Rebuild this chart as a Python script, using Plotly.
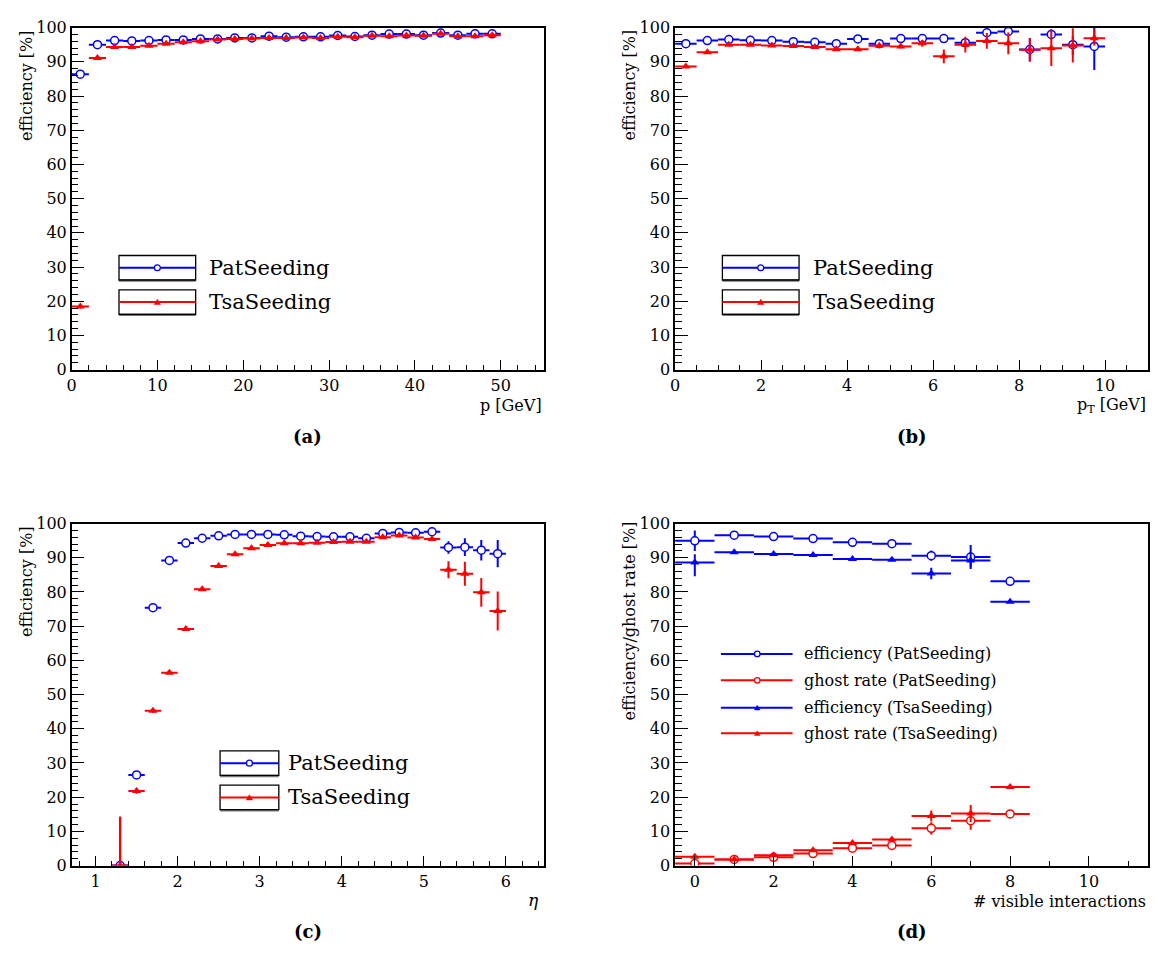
import plotly.graph_objects as go

W, H = 1157, 953
FONT = "'DejaVu Serif', 'Liberation Serif', 'Times New Roman', serif"
BLUE = "rgb(0,0,255)"
RED = "rgb(255,0,0)"

# ---------------- Panel (a): efficiency vs p ----------------
p_centers = [1, 3, 5, 7, 9, 11, 13, 15, 17, 19, 21, 23, 25, 27, 29, 31, 33, 35, 37, 39, 41, 43, 45, 47, 49]
p_halfwidth = [1.0] * 25
pat_p = [86.4, 95.0, 96.2, 96.1, 96.2, 96.4, 96.4, 96.7, 96.7, 97.0, 97.0, 97.5, 97.2,
         97.3, 97.3, 97.7, 97.4, 97.8, 98.1, 98.1, 97.8, 98.4, 97.8, 98.2, 98.2]
pat_p_err = [0.6, 0.4, 0.3, 0.3, 0.3, 0.3, 0.3, 0.3, 0.3, 0.3, 0.3, 0.3, 0.3,
             0.3, 0.3, 0.3, 0.3, 0.3, 0.3, 0.3, 0.3, 0.3, 0.3, 0.3, 0.3]
tsa_p = [18.5, 91.1, 94.3, 94.3, 94.7, 95.3, 95.7, 96.0, 96.5, 96.7, 96.8, 97.0, 97.0,
         97.1, 97.0, 97.3, 97.2, 97.6, 97.5, 97.7, 97.6, 98.2, 97.5, 97.5, 97.8]
tsa_p_err = [0.6, 0.5, 0.3, 0.3, 0.3, 0.3, 0.3, 0.3, 0.3, 0.3, 0.3, 0.3, 0.3,
             0.3, 0.3, 0.3, 0.3, 0.3, 0.3, 0.3, 0.3, 0.3, 0.3, 0.3, 0.3]

# ---------------- Panel (b): efficiency vs pT ----------------
pt_centers = [0.25, 0.75, 1.25, 1.75, 2.25, 2.75, 3.25, 3.75, 4.25, 4.75,
              5.25, 5.75, 6.25, 6.75, 7.25, 7.75, 8.25, 8.75, 9.25, 9.75]
pt_halfwidth = [0.25] * 20
pat_pt = [95.3, 96.2, 96.5, 96.3, 96.2, 95.9, 95.7, 95.3, 96.7, 95.3,
          96.8, 96.8, 96.8, 95.6, 98.5, 98.9, 93.6, 98.0, 95.0, 94.5]
pat_pt_err_up = [0.3, 0.3, 0.3, 0.3, 0.3, 0.3, 0.3, 0.3, 0.3, 0.4,
                 0.4, 0.5, 1.3, 1.1, 0.8, 0.8, 3.4, 1.5, 2.5, 5.5]
pat_pt_err_dn = [0.3, 0.3, 0.3, 0.3, 0.3, 0.3, 0.3, 0.3, 0.3, 0.4,
                 0.4, 0.5, 1.3, 1.1, 0.8, 0.8, 3.4, 1.5, 3.0, 6.9]
tsa_pt = [88.6, 92.8, 95.0, 95.0, 94.8, 94.6, 94.3, 93.7, 93.7, 94.7,
          94.5, 95.4, 91.6, 95.0, 96.1, 95.4, 93.5, 94.0, 94.8, 96.9]
tsa_pt_err_up = [0.4, 0.4, 0.3, 0.3, 0.3, 0.3, 0.3, 0.3, 0.4, 0.5,
                 0.6, 1.0, 2.0, 2.3, 2.3, 3.2, 3.5, 5.2, 5.0, 2.6]
tsa_pt_err_dn = [0.4, 0.4, 0.3, 0.3, 0.3, 0.3, 0.3, 0.3, 0.4, 0.5,
                 0.6, 1.0, 2.0, 2.3, 2.3, 3.2, 3.5, 5.2, 5.0, 2.1]

# ---------------- Panel (c): efficiency vs eta ----------------
eta_centers = [1.3, 1.5, 1.7, 1.9, 2.1, 2.3, 2.5, 2.7, 2.9, 3.1, 3.3, 3.5,
               3.7, 3.9, 4.1, 4.3, 4.5, 4.7, 4.9, 5.1, 5.3, 5.5, 5.7, 5.9]
eta_halfwidth = [0.1] * 24
pat_eta = [0.0, 26.5, 75.4, 89.2, 94.3, 95.7, 96.4, 96.8, 96.8, 96.8, 96.7, 96.3,
           96.2, 96.1, 96.1, 95.7, 97.1, 97.4, 97.3, 97.6, 93.0, 93.1, 92.2, 91.2]
pat_eta_err_up = [14.3, 0.9, 0.5, 0.4, 0.3, 0.3, 0.3, 0.3, 0.3, 0.3, 0.3, 0.3,
                  0.3, 0.3, 0.3, 0.3, 0.3, 0.3, 0.3, 0.4, 1.8, 2.6, 3.0, 4.0]
pat_eta_err_dn = [0.0, 0.9, 0.5, 0.4, 0.3, 0.3, 0.3, 0.3, 0.3, 0.3, 0.3, 0.3,
                  0.3, 0.3, 0.3, 0.3, 0.3, 0.3, 0.3, 0.4, 1.8, 2.6, 3.0, 4.0]
tsa_eta = [0.0, 21.8, 45.3, 56.4, 69.2, 80.8, 87.6, 91.0, 92.8, 93.7, 94.2, 94.2,
           94.4, 94.6, 94.7, 94.7, 96.0, 96.5, 95.9, 95.5, 86.5, 85.3, 79.9, 74.4]
tsa_eta_err_up = [14.3, 0.8, 0.6, 0.5, 0.4, 0.3, 0.3, 0.3, 0.3, 0.3, 0.3, 0.3,
                  0.3, 0.3, 0.3, 0.3, 0.3, 0.3, 0.3, 0.4, 2.5, 3.5, 4.2, 5.7]
tsa_eta_err_dn = [0.0, 0.8, 0.6, 0.5, 0.4, 0.3, 0.3, 0.3, 0.3, 0.3, 0.3, 0.3,
                  0.3, 0.3, 0.3, 0.3, 0.3, 0.3, 0.3, 0.4, 2.5, 3.5, 4.2, 5.7]

# ---------------- Panel (d): vs # visible interactions ----------------
nvis = [0, 1, 2, 3, 4, 5, 6, 7, 8]
nvis_halfwidth = [0.5] * 9
eff_pat = [94.95, 96.6, 96.2, 95.6, 94.5, 94.1, 90.6, 90.2, 83.1]
eff_pat_err_up = [3.0, 0.3, 0.3, 0.3, 0.3, 0.3, 1.5, 3.5, 0.3]
eff_pat_err_dn = [3.0, 0.3, 0.3, 0.3, 0.3, 0.3, 1.5, 3.5, 0.3]
ghost_pat = [0.6, 1.8, 2.4, 3.5, 5.1, 5.9, 10.9, 13.1, 15.1]
ghost_pat_err = [0.5, 0.3, 0.3, 0.3, 0.3, 0.3, 1.8, 2.6, 0.3]
eff_tsa = [88.6, 91.6, 91.1, 90.8, 89.6, 89.4, 85.4, 89.2, 77.1]
eff_tsa_err_up = [2.4, 0.3, 0.3, 0.3, 0.3, 0.3, 1.7, 2.5, 0.3]
eff_tsa_err_dn = [4.0, 0.3, 0.3, 0.3, 0.3, 0.3, 1.7, 2.0, 0.3]
ghost_tsa = [2.6, 1.8, 3.0, 4.5, 6.6, 7.6, 14.5, 15.2, 23.0]
ghost_tsa_err = [0.7, 0.3, 0.3, 0.3, 0.3, 0.3, 1.6, 2.5, 0.3]

fig = go.Figure()

CIRCLE = dict(symbol="circle", size=8, color="white", line=dict(width=1.5))
TRI = dict(symbol="triangle-up", size=8, line=dict(width=0))


def add_series(x, xerr, y, up, dn, color, kind, xa, ya):
    m = dict(CIRCLE) if kind == "c" else dict(TRI)
    if kind == "c":
        m["line"] = dict(width=1.5, color=color)
    else:
        m["color"] = color
    fig.add_trace(go.Scatter(
        x=x, y=y, mode="markers", marker=m, xaxis=xa, yaxis=ya, showlegend=False,
        error_x=dict(type="data", array=xerr, symmetric=True, width=0, thickness=2, color=color),
        error_y=dict(type="data", array=up, arrayminus=dn, symmetric=False, width=0,
                     thickness=2, color=color),
    ))


add_series(p_centers, p_halfwidth, pat_p, pat_p_err, pat_p_err, BLUE, "c", "x", "y")
add_series(p_centers, p_halfwidth, tsa_p, tsa_p_err, tsa_p_err, RED, "t", "x", "y")
add_series(pt_centers, pt_halfwidth, pat_pt, pat_pt_err_up, pat_pt_err_dn, BLUE, "c", "x2", "y2")
add_series(pt_centers, pt_halfwidth, tsa_pt, tsa_pt_err_up, tsa_pt_err_dn, RED, "t", "x2", "y2")
add_series(eta_centers, eta_halfwidth, pat_eta, pat_eta_err_up, pat_eta_err_dn, BLUE, "c", "x3", "y3")
add_series(eta_centers, eta_halfwidth, tsa_eta, tsa_eta_err_up, tsa_eta_err_dn, RED, "t", "x3", "y3")
add_series(nvis, nvis_halfwidth, eff_pat, eff_pat_err_up, eff_pat_err_dn, BLUE, "c", "x4", "y4")
add_series(nvis, nvis_halfwidth, ghost_pat, ghost_pat_err, ghost_pat_err, RED, "c", "x4", "y4")
add_series(nvis, nvis_halfwidth, eff_tsa, eff_tsa_err_up, eff_tsa_err_dn, BLUE, "t", "x4", "y4")
add_series(nvis, nvis_halfwidth, ghost_tsa, ghost_tsa_err, ghost_tsa_err, RED, "t", "x4", "y4")


def px(x):
    return x / W


def py(y):
    return 1 - y / H


TICKFONT = dict(family=FONT, size=16, color="black")


def xaxis(dom, rng, dtick, minor, anchor):
    return dict(domain=[px(dom[0]), px(dom[1])], range=rng, anchor=anchor,
                showline=True, linecolor="black", linewidth=1.5, mirror=True,
                ticks="inside", ticklen=10, tickwidth=1.2, tickcolor="black",
                tick0=0, dtick=dtick, showgrid=False, zeroline=False, tickfont=TICKFONT,
                minor=dict(ticks="inside", ticklen=5, tickwidth=1, tickcolor="black",
                           dtick=minor, tick0=0, showgrid=False))


def yaxis(dom, anchor):
    return dict(domain=[py(dom[1]), py(dom[0])], range=[0, 100], anchor=anchor,
                showline=True, linecolor="black", linewidth=1.5, mirror=True,
                ticks="inside", ticklen=13, tickwidth=1.2, tickcolor="black",
                tick0=0, dtick=10, showgrid=False, zeroline=False, tickfont=TICKFONT,
                minor=dict(ticks="inside", ticklen=7, tickwidth=1, tickcolor="black",
                           dtick=2, tick0=0, showgrid=False))


LX = (67, 541)
RX = (673, 1148)
TY = (19, 368)
BY = (525, 874)

shapes = []
annotations = []


def text(x, y, s, size=16, xanchor="left", yanchor="middle", angle=0, bold=False):
    if bold:
        s = "<b>" + s + "</b>"
    annotations.append(dict(x=px(x), y=py(y), xref="paper", yref="paper", text=s,
                            showarrow=False, xanchor=xanchor, yanchor=yanchor,
                            textangle=angle, font=dict(family=FONT, size=size, color="black")))


def hline(x0, x1, y, color, width=2):
    shapes.append(dict(type="line", xref="paper", yref="paper", x0=px(x0), x1=px(x1),
                       y0=py(y), y1=py(y), line=dict(color=color, width=width)))


def rect(x0, y0, x1, y1):
    shapes.append(dict(type="line", xref="paper", yref="paper", x0=px(x0), x1=px(x1),
                       y0=py(y1 + 0.5), y1=py(y1 + 0.5), line=dict(color="#777", width=2.5)))
    shapes.append(dict(type="rect", xref="paper", yref="paper", x0=px(x0), x1=px(x1),
                       y0=py(y1), y1=py(y0), line=dict(color="black", width=1.3)))


def circ(cx, cy, color, r=3.0):
    shapes.append(dict(type="circle", xref="paper", yref="paper", x0=px(cx - r), x1=px(cx + r),
                       y0=py(cy + r), y1=py(cy - r), fillcolor="white",
                       line=dict(color=color, width=1.3)))


def tri(cx, cy, color, s=3.2):
    path = "M{:.5f},{:.5f} L{:.5f},{:.5f} L{:.5f},{:.5f} Z".format(
        px(cx - s), py(cy + s * 0.8), px(cx + s), py(cy + s * 0.8), px(cx), py(cy - s * 0.9))
    shapes.append(dict(type="path", xref="paper", yref="paper", path=path,
                       fillcolor=color, line=dict(color=color, width=0.5)))


def boxed_legend(x0, x1, rows, tx):
    for (yc, color, kind, label) in rows:
        rect(x0, yc - 12.5, x1, yc + 12.5)
        hline(x0, x1, yc, color)
        cx = (x0 + x1) / 2
        if kind == "c":
            circ(cx, yc, color)
        else:
            tri(cx, yc, color)
        text(tx, yc, label, size=21)


boxed_legend(114.5, 191.5, [(264, BLUE, "c", "PatSeeding"), (299, RED, "t", "TsaSeeding")], 203)
boxed_legend(720.5, 797.5, [(264, BLUE, "c", "PatSeeding"), (299, RED, "t", "TsaSeeding")], 809)
boxed_legend(216, 275, [(769.5, BLUE, "c", "PatSeeding"), (804.5, RED, "t", "TsaSeeding")], 282)

for (yc, color, kind, label) in [(658, BLUE, "c", "efficiency (PatSeeding)"),
                                 (685, RED, "c", "ghost rate (PatSeeding)"),
                                 (713, BLUE, "t", "efficiency (TsaSeeding)"),
                                 (739, RED, "t", "ghost rate (TsaSeeding)")]:
    hline(719, 791, yc, color)
    if kind == "c":
        circ(755.5, yc, color, r=2.8)
    else:
        tri(755.5, yc, color, s=2.8)
    text(800, yc, label, size=16)

# axis titles
text(21, 19, "efficiency [%]", size=16, xanchor="center", yanchor="top", angle=-90)
text(627, 19, "efficiency [%]", size=16, xanchor="center", yanchor="top", angle=-90)
text(21, 525, "efficiency [%]", size=16, xanchor="center", yanchor="top", angle=-90)
text(627, 521, "efficiency/ghost rate [%]", size=16, xanchor="center", yanchor="top", angle=-90)
text(541, 405, "p [GeV]", size=16, xanchor="right")
text(1148, 405, "p<sub>T</sub> [GeV]", size=16, xanchor="right")
text(538, 909, "<i>η</i>", size=17, xanchor="right")
text(1148, 911, "# visible interactions", size=16, xanchor="right")

# panel labels
text(304, 436, "(a)", size=18, xanchor="center", bold=True)
text(910.5, 436, "(b)", size=18, xanchor="center", bold=True)
text(304, 941, "(c)", size=18, xanchor="center", bold=True)
text(910.5, 941, "(d)", size=18, xanchor="center", bold=True)

fig.update_layout(
    width=W, height=H, margin=dict(l=0, r=0, t=0, b=0),
    paper_bgcolor="white", plot_bgcolor="white", showlegend=False,
    font=dict(family=FONT, color="black"),
    xaxis=xaxis(LX, [0, 55], 10, 2, "y"),
    yaxis=yaxis(TY, "x"),
    xaxis2=xaxis(RX, [0, 11], 2, 0.5, "y2"),
    yaxis2=yaxis(TY, "x2"),
    xaxis3=xaxis(LX, [0.71, 6.46], 1, 0.2, "y3"),
    yaxis3=yaxis(BY, "x3"),
    xaxis4=xaxis(RX, [-0.5, 11.5], 2, 1, "y4"),
    yaxis4=yaxis(BY, "x4"),
    shapes=shapes, annotations=annotations,
)

fig.write_html("out.html",
               post_script="document.body.style.margin='0';document.body.style.overflow='hidden';")
